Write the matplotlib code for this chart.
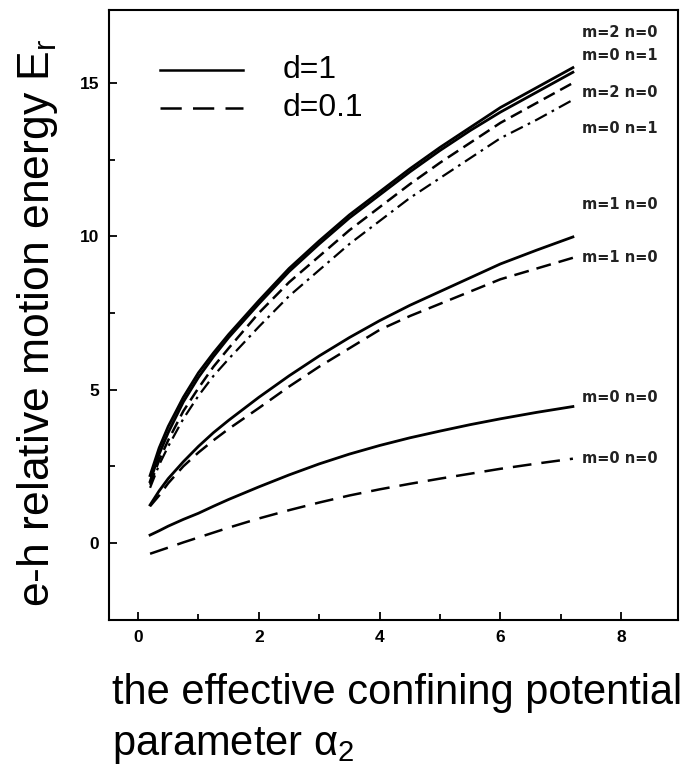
import matplotlib
matplotlib.use("Agg")
import matplotlib.pyplot as plt
from matplotlib.ticker import MultipleLocator

# Effective confining potential parameter alpha_2
alpha = [0.2, 0.35, 0.5, 0.75, 1.0, 1.25, 1.5, 2.0, 2.5, 3.0, 3.5, 4.0,
         4.5, 5.0, 5.5, 6.0, 6.6, 7.2]

# e-h relative motion energy for d = 1 (solid)
e_m2n0_d1 = [2.2, 3.1, 3.8, 4.75, 5.55, 6.2, 6.8, 7.9, 8.95, 9.85, 10.7, 11.45,
             12.2, 12.9, 13.55, 14.2, 14.85, 15.5]
e_m0n1_d1 = [2.0, 2.9, 3.6, 4.6, 5.4, 6.08, 6.7, 7.8, 8.85, 9.75, 10.6, 11.35,
             12.1, 12.8, 13.45, 14.05, 14.7, 15.35]
e_m1n0_d1 = [1.24, 1.7, 2.1, 2.65, 3.15, 3.6, 4.0, 4.75, 5.45, 6.1, 6.7, 7.25,
             7.75, 8.2, 8.65, 9.1, 9.55, 9.98]
e_m0n0_d1 = [0.26, 0.4, 0.55, 0.77, 0.97, 1.2, 1.42, 1.83, 2.22, 2.58, 2.9, 3.18,
             3.43, 3.65, 3.86, 4.05, 4.26, 4.45]

# e-h relative motion energy for d = 0.1 (dashed)
e_m2n0_d01 = [1.9, 2.7, 3.35, 4.3, 5.05, 5.75, 6.35, 7.5, 8.5, 9.35, 10.2, 10.95,
              11.7, 12.4, 13.05, 13.7, 14.35, 15.0]
e_m0n1_d01 = [1.8, 2.55, 3.15, 4.05, 4.8, 5.45, 6.0, 7.05, 8.05, 8.9, 9.75, 10.5,
              11.25, 11.9, 12.55, 13.2, 13.8, 14.45]
e_m1n0_d01 = [1.2, 1.55, 1.95, 2.5, 2.95, 3.35, 3.72, 4.4, 5.1, 5.75, 6.35, 6.95,
              7.4, 7.8, 8.2, 8.6, 8.95, 9.3]
e_m0n0_d01 = [-0.35, -0.25, -0.15, 0.02, 0.18, 0.34, 0.5, 0.8, 1.07, 1.32, 1.55,
              1.75, 1.93, 2.1, 2.26, 2.42, 2.59, 2.75]

# State labels at the right edge, top to bottom
state_labels = ["m=2 n=0", "m=0 n=1", "m=2 n=0", "m=0 n=1",
                "m=1 n=0", "m=1 n=0", "m=0 n=0", "m=0 n=0"]
label_y = [16.65, 15.9, 14.7, 13.5, 11.05, 9.3, 4.75, 2.75]

legend_labels = ["d=1", "d=0.1"]

fig = plt.figure(figsize=(6.83, 7.65), dpi=100)
ax = fig.add_axes([109 / 683, 1 - 620 / 765, (678 - 109) / 683, (620 - 10) / 765])

lw = 2.0
ax.plot(alpha, e_m2n0_d1, color="black", lw=lw)
ax.plot(alpha, e_m0n1_d1, color="black", lw=lw)
ax.plot(alpha, e_m1n0_d1, color="black", lw=lw)
ax.plot(alpha, e_m0n0_d1, color="black", lw=lw)

ax.plot(alpha, e_m2n0_d01, color="black", lw=1.8, dashes=(5, 2.5))
ax.plot(alpha, e_m0n1_d01, color="black", lw=1.6, dashes=(6, 2.5, 1.2, 2.5))
ax.plot(alpha, e_m1n0_d01, color="black", lw=1.8, dashes=(6, 3.2))
ax.plot(alpha, e_m0n0_d01, color="black", lw=1.8, dashes=(7.5, 4))

for txt, y in zip(state_labels, label_y):
    ax.text(7.35, y, txt, fontsize=10.5, fontweight="bold", family="DejaVu Sans",
            ha="left", va="center", color="#222222")

# Legend drawn as line samples with text
ax.plot([0.37, 1.74], [15.42, 15.42], color="black", lw=1.8)
ax.plot([0.37, 1.74], [14.18, 14.18], color="black", lw=1.8, dashes=(8.5, 4.5))
ax.text(2.4, 15.42, legend_labels[0], fontsize=23, family="Liberation Sans",
        ha="left", va="center")
ax.text(2.4, 14.18, legend_labels[1], fontsize=23, family="Liberation Sans",
        ha="left", va="center")

ax.set_xlim(-0.48, 8.94)
ax.set_ylim(-2.51, 17.38)
ax.xaxis.set_major_locator(MultipleLocator(2))
ax.xaxis.set_minor_locator(MultipleLocator(1))
ax.yaxis.set_major_locator(MultipleLocator(5))
ax.yaxis.set_minor_locator(MultipleLocator(2.5))
ax.tick_params(which="both", direction="in", top=False, right=False, width=1.3)
ax.tick_params(which="major", length=6, pad=7, labelsize=12.5)
ax.tick_params(which="minor", length=4)
for lab in ax.get_xticklabels() + ax.get_yticklabels():
    lab.set_fontweight("bold")
    lab.set_family("Liberation Sans")
for sp in ax.spines.values():
    sp.set_linewidth(1.5)

fig.text(38 / 683, 1 - 323 / 765, r"e-h relative motion energy E$_\mathregular{r}$",
         rotation=90, fontsize=32, family="Liberation Sans", ha="center", va="center")
fig.text(112 / 683, 1 - 693 / 765, "the effective confining potential",
         fontsize=30, family="Liberation Sans", ha="left", va="center")
fig.text(112 / 683, 1 - 745 / 765, r"parameter $\mathregular{\alpha_2}$",
         fontsize=30, family="Liberation Sans", ha="left", va="center")

fig.savefig("out.png", dpi=100)
